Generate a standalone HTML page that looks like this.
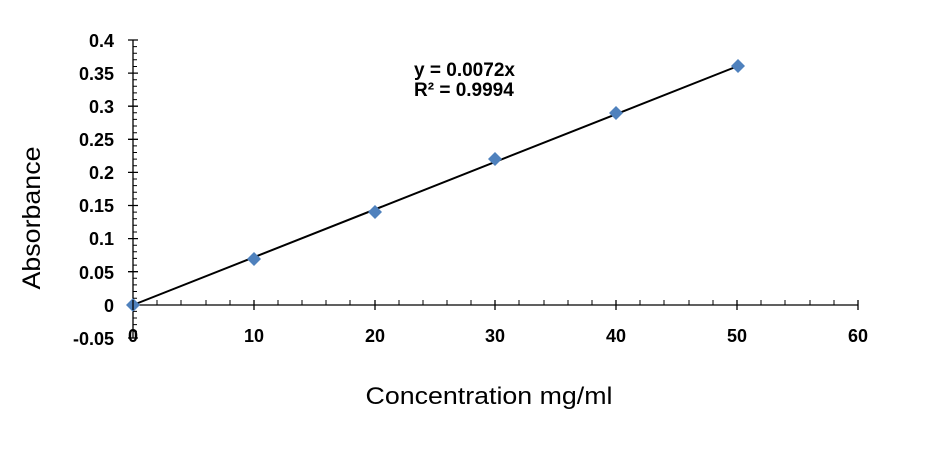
<!DOCTYPE html>
<html><head><meta charset="utf-8"><style>html,body{margin:0;padding:0;background:#fff}svg{display:block}</style></head>
<body>
<svg width="931" height="449" xmlns="http://www.w3.org/2000/svg" font-family="Liberation Sans, Arial, sans-serif">
<g stroke="#000" stroke-width="1.3" fill="none">
<line x1="133" y1="40" x2="133" y2="338"/>
<line x1="133" y1="305" x2="858" y2="305"/>
<path d="M128 40H138M128 73.1H138M128 106.2H138M128 139.3H138M128 172.4H138M128 205.5H138M128 238.6H138M128 271.7H138M128 304.8H138M128 338H138"/>
</g>
<g fill="#000" font-weight="bold" font-size="18" text-anchor="end">
<text x="114" y="47">0.4</text><text x="114" y="80">0.35</text><text x="114" y="113">0.3</text>
<text x="114" y="146">0.25</text><text x="114" y="179">0.2</text><text x="114" y="212">0.15</text>
<text x="114" y="245">0.1</text><text x="114" y="279">0.05</text><text x="114" y="312">0</text>
<text x="114" y="345">-0.05</text>
</g>
<g fill="#000" font-weight="bold" font-size="18" text-anchor="middle">
<text x="133" y="342">0</text><text x="254" y="342">10</text><text x="375" y="342">20</text>
<text x="495" y="342">30</text><text x="616" y="342">40</text><text x="737" y="342">50</text><text x="858" y="342">60</text>
</g>
<line x1="133" y1="305" x2="738" y2="66" stroke="#000" stroke-width="2"/>
<g fill="#4f81bd">
<path d="M133 298L140 305L133 312L126 305Z"/>
<path d="M254 252L261 259L254 266L247 259Z"/>
<path d="M375 205L382 212L375 219L368 212Z"/>
<path d="M495 152L502 159L495 166L488 159Z"/>
<path d="M616 106L623 113L616 120L609 113Z"/>
<path d="M738 59L745 66L738 73L731 66Z"/>
</g>
<g fill="#000" font-weight="bold" font-size="19">
<text x="414" y="76" textLength="101" lengthAdjust="spacingAndGlyphs">y = 0.0072x</text>
<text x="414" y="96">R² = 0.9994</text>
</g>
<text x="489" y="404" font-size="24" text-anchor="middle" textLength="247" lengthAdjust="spacingAndGlyphs">Concentration mg/ml</text>
<text transform="translate(40,218) rotate(-90)" font-size="25" text-anchor="middle" textLength="143" lengthAdjust="spacingAndGlyphs">Absorbance</text>
<path stroke="#000" stroke-width="1" d="M133 46.6H137M133 53.2H137M133 59.8H137M133 66.5H137M133 79.7H137M133 86.3H137M133 92.9H137M133 99.6H137M133 112.8H137M133 119.4H137M133 126H137M133 132.7H137M133 145.9H137M133 152.5H137M133 159.1H137M133 165.8H137M133 179H137M133 185.6H137M133 192.2H137M133 198.9H137M133 212.1H137M133 218.7H137M133 225.3H137M133 232H137M133 245.2H137M133 251.8H137M133 258.4H137M133 265.1H137M133 278.3H137M133 284.9H137M133 291.5H137M133 298.2H137M133 311.4H137M133 318H137M133 324.6H137M133 331.3H137"/>
<path stroke="#000" stroke-width="1.3" d="M133 300V310M254 300V310M375 300V310M495 300V310M616 300V310M737 300V310M858 300V310"/>
<path stroke="#000" stroke-width="1" d="M157 300V305M181 300V305M206 300V305M230 300V305M278 300V305M302 300V305M326 300V305M350 300V305M399 300V305M423 300V305M447 300V305M471 300V305M519 300V305M544 300V305M568 300V305M592 300V305M640 300V305M664 300V305M689 300V305M713 300V305M761 300V305M785 300V305M810 300V305M834 300V305"/>
</svg>
</body></html>
